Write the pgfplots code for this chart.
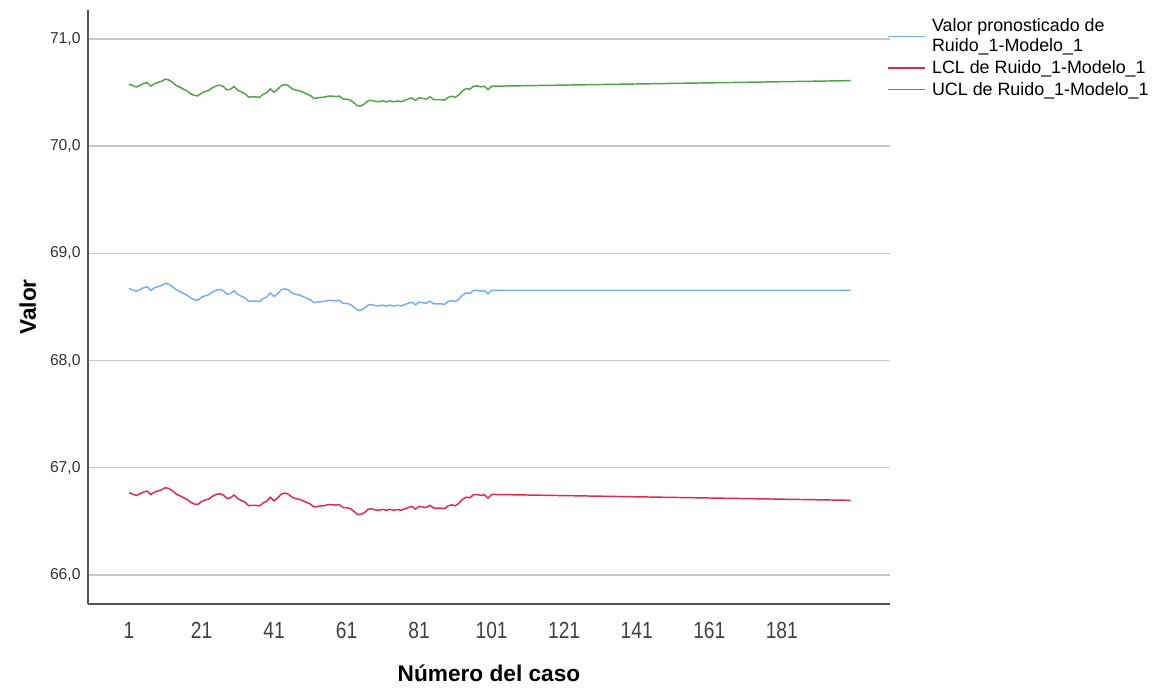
\documentclass[border=0pt]{standalone}
\usepackage{pgfplots}
\pgfplotsset{compat=1.18}
\usepackage{pgfplotstable}
\usepackage{fontspec}
\setmainfont{Liberation Sans}
\newfontfamily\condfont[FakeStretch=0.82]{Liberation Sans}
\definecolor{cpred}{RGB}{120,172,238}
\definecolor{clcl}{RGB}{226,38,78}
\definecolor{cucl}{RGB}{82,162,72}
\definecolor{cgrid}{RGB}{200,200,200}
\definecolor{caxis}{RGB}{85,85,85}
\pgfplotstableread{
case pred lcl ucl
1 68.673 66.768 70.578
2 68.660 66.755 70.565
3 68.647 66.742 70.552
4 68.662 66.757 70.567
5 68.679 66.774 70.584
6 68.688 66.783 70.593
7 68.655 66.750 70.560
8 68.678 66.773 70.583
9 68.690 66.785 70.595
10 68.700 66.795 70.605
11 68.720 66.815 70.625
12 68.712 66.807 70.617
13 68.690 66.785 70.595
14 68.662 66.757 70.567
15 68.645 66.740 70.550
16 68.628 66.723 70.533
17 68.610 66.705 70.515
18 68.585 66.680 70.490
19 68.568 66.663 70.473
20 68.564 66.659 70.469
21 68.590 66.685 70.495
22 68.605 66.700 70.510
23 68.614 66.709 70.519
24 68.640 66.735 70.545
25 68.656 66.751 70.561
26 68.664 66.759 70.569
27 68.652 66.747 70.557
28 68.620 66.715 70.525
29 68.626 66.721 70.531
30 68.652 66.747 70.557
31 68.618 66.713 70.523
32 68.600 66.695 70.505
33 68.585 66.680 70.490
34 68.552 66.647 70.457
35 68.556 66.651 70.461
36 68.555 66.650 70.460
37 68.550 66.645 70.455
38 68.578 66.673 70.483
39 68.595 66.690 70.500
40 68.630 66.725 70.535
41 68.598 66.693 70.503
42 68.625 66.720 70.530
43 68.660 66.755 70.565
44 68.670 66.765 70.575
45 68.658 66.753 70.563
46 68.630 66.725 70.535
47 68.618 66.713 70.523
48 68.612 66.707 70.517
49 68.597 66.692 70.502
50 68.582 66.677 70.487
51 68.568 66.663 70.473
52 68.540 66.635 70.445
53 68.545 66.640 70.450
54 68.550 66.645 70.455
55 68.553 66.648 70.458
56 68.562 66.657 70.467
57 68.562 66.657 70.467
58 68.557 66.652 70.462
59 68.562 66.657 70.467
60 68.535 66.630 70.440
61 68.533 66.628 70.438
62 68.525 66.620 70.430
63 68.500 66.595 70.405
64 68.472 66.567 70.377
65 68.470 66.565 70.375
66 68.490 66.585 70.395
67 68.520 66.615 70.425
68 68.522 66.617 70.427
69 68.512 66.607 70.417
70 68.510 66.605 70.415
71 68.518 66.613 70.423
72 68.508 66.603 70.413
73 68.518 66.613 70.423
74 68.508 66.603 70.413
75 68.517 66.612 70.422
76 68.509 66.604 70.414
77 68.522 66.617 70.427
78 68.535 66.630 70.440
79 68.545 66.640 70.450
80 68.522 66.617 70.427
81 68.546 66.641 70.451
82 68.540 66.635 70.445
83 68.535 66.630 70.440
84 68.555 66.650 70.460
85 68.530 66.625 70.435
86 68.528 66.623 70.433
87 68.530 66.625 70.435
88 68.524 66.619 70.429
89 68.550 66.645 70.455
90 68.560 66.655 70.465
91 68.551 66.646 70.456
92 68.575 66.670 70.480
93 68.612 66.707 70.517
94 68.632 66.727 70.537
95 68.626 66.721 70.531
96 68.654 66.749 70.559
97 68.657 66.752 70.562
98 68.648 66.743 70.553
99 68.654 66.749 70.559
100 68.623 66.718 70.528
101 68.654 66.752 70.559
200 68.654 66.697 70.611
}\datatable
\begin{document}
\begin{tikzpicture}
\useasboundingbox (-66pt,-63pt) rectangle (800.25pt,453pt);
\begin{axis}[
  at={(0pt,0pt)}, anchor=south west,
  scale only axis,
  width=601.5pt, height=445.5pt,
  xmin=-10.3, xmax=210.85,
  ymin=65.73, ymax=71.27,
  axis x line*=bottom, axis y line*=left,
  axis line style={caxis, line width=0.9pt, -},
  xtick={1,21,41,61,81,101,121,141,161,181},
  ytick={66,67,68,69,70,71},
  major tick length=0pt,
  ymajorgrids=true,
  grid style={cgrid, line width=1pt},
  /pgf/number format/assume math mode=true,
  yticklabel style={/pgf/number format/fixed, /pgf/number format/fixed zerofill,
    /pgf/number format/precision=1, /pgf/number format/use comma,
    anchor=east, xshift=-2pt, font=\fontsize{11.8}{13}\selectfont, text=black!80},
  xticklabel style={anchor=base, yshift=-25.5pt, font=\condfont\fontsize{17.5}{20}\selectfont, text=black!75},
  xlabel={Número del caso},
  ylabel={Valor},
  label style={font=\bfseries\fontsize{17}{19}\selectfont},
  xlabel style={at={(axis description cs:0.5,-0.116)}, anchor=center},
  ylabel style={at={(axis description cs:-0.075,0.5)}, anchor=center},
  legend style={draw=none, fill=none, at={(1,1)}, anchor=north west,
    xshift=-2.5pt, yshift=-4.5pt,
    font=\fontsize{13.4}{15}\selectfont,
    cells={align=left}, row sep=1pt, inner sep=0pt,
    /tikz/every odd column/.append style={column sep=3pt}},
  legend cell align=left,
  legend image code/.code={\draw[#1] (0pt,0pt) -- (27.75pt,0pt);},
  every axis plot/.append style={line width=1.1pt, mark=none},
]
\addplot[cpred] table[x=case, y=pred] {\datatable};
\addlegendentry{Valor pronosticado de\\Ruido\_1-Modelo\_1}
\addplot[clcl] table[x=case, y=lcl] {\datatable};
\addlegendentry{LCL de Ruido\_1-Modelo\_1}
\addplot[cucl] table[x=case, y=ucl] {\datatable};
\addlegendentry{UCL de Ruido\_1-Modelo\_1}
\end{axis}
\end{tikzpicture}
\end{document}
